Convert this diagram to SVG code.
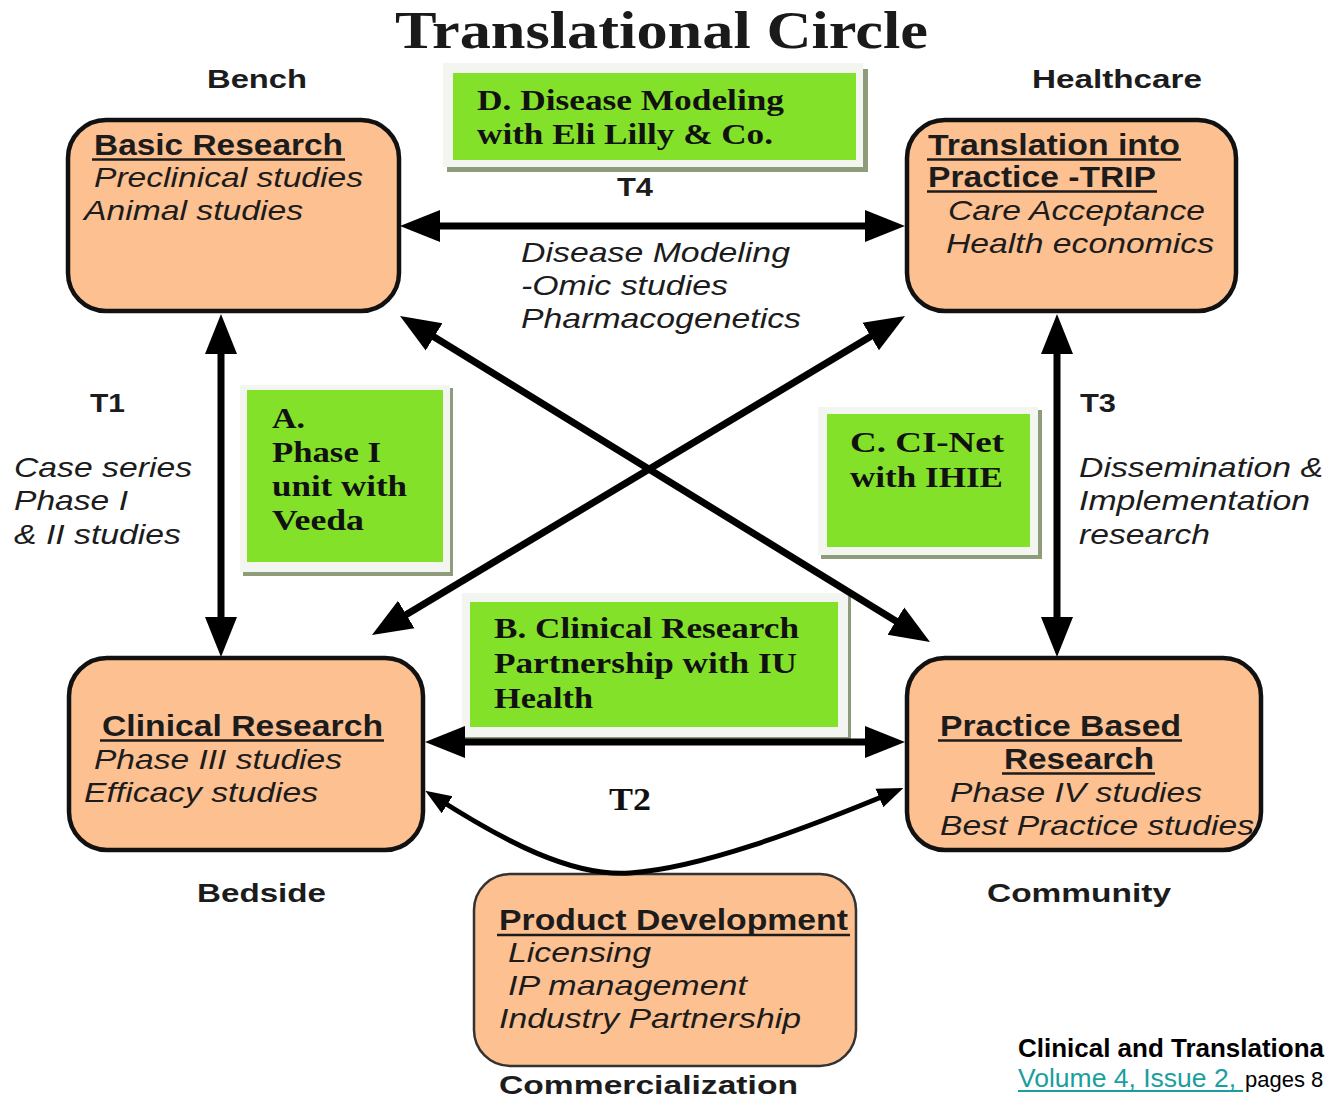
<svg xmlns="http://www.w3.org/2000/svg" width="1329" height="1100" viewBox="0 0 1329 1100">
<defs>
<style>
.box{fill:#fdc091;stroke:#111;stroke-width:4.5}
.box2{fill:#fdc091;stroke:#333;stroke-width:2.5}
.frame{fill:#f3f5f0}
.shadow{fill:#8e9c7c}
.green{fill:#84e12a}
.h{font-family:"Liberation Sans",Arial,sans-serif;font-weight:bold;font-size:29px;fill:#1c1c1c}
.i{font-family:"Liberation Sans",Arial,sans-serif;font-style:italic;font-size:28px;fill:#1c1c1c}
.lbl{font-family:"Liberation Sans",Arial,sans-serif;font-weight:bold;font-size:26px;fill:#1c1c1c}
.g{font-family:"Liberation Serif","Times New Roman",serif;font-weight:bold;font-size:30px;fill:#111}
.title{font-family:"Liberation Serif","Times New Roman",serif;font-weight:bold;font-size:52px;fill:#1a1a1a}
.ul{stroke:#1c1c1c;stroke-width:2.5}
.conn{stroke:#000;stroke-width:7;fill:none}
.curve{stroke:#000;stroke-width:5;fill:none}
</style>
<marker id="ah" markerUnits="userSpaceOnUse" markerWidth="42" markerHeight="36" viewBox="0 0 42 36" refX="29" refY="18" orient="auto-start-reverse">
<path d="M0,2 L40,18 L0,34 z" fill="#000"/>
</marker>
<marker id="ahs" markerUnits="userSpaceOnUse" markerWidth="28" markerHeight="22" viewBox="0 0 28 22" refX="18" refY="11" orient="auto-start-reverse">
<path d="M0,1 L26,11 L0,21 z" fill="#000"/>
</marker>
</defs>
<rect width="1329" height="1100" fill="#fff"/>

<text class="title" x="395" y="48" textLength="533" lengthAdjust="spacingAndGlyphs">Translational Circle</text>

<g id="label-bench"><text class="lbl" x="207" y="88" textLength="100" lengthAdjust="spacingAndGlyphs">Bench</text></g>
<g id="label-healthcare"><text class="lbl" x="1032" y="88" textLength="170" lengthAdjust="spacingAndGlyphs">Healthcare</text></g>
<g id="label-bedside"><text class="lbl" x="197" y="902" textLength="129" lengthAdjust="spacingAndGlyphs">Bedside</text></g>
<g id="label-community"><text class="lbl" x="987" y="902" textLength="184" lengthAdjust="spacingAndGlyphs">Community</text></g>
<g id="label-commercialization"><text class="lbl" x="499" y="1094" textLength="299" lengthAdjust="spacingAndGlyphs">Commercialization</text></g>

<g id="node-basic">
<rect class="box" x="68" y="120" width="331" height="191" rx="38"/>
<text class="h" x="94" y="155" textLength="249" lengthAdjust="spacingAndGlyphs">Basic Research</text>
<line class="ul" x1="92" y1="159.5" x2="345" y2="159.5"/>
<text class="i" x="94" y="187" textLength="269" lengthAdjust="spacingAndGlyphs">Preclinical studies</text>
<text class="i" x="84" y="220" textLength="219" lengthAdjust="spacingAndGlyphs">Animal studies</text>
</g>

<g id="node-trip">
<rect class="box" x="907" y="120" width="329" height="191" rx="38"/>
<text class="h" x="928" y="155" textLength="252" lengthAdjust="spacingAndGlyphs">Translation into</text>
<line class="ul" x1="927" y1="159.5" x2="1181" y2="159.5"/>
<text class="h" x="928" y="187" textLength="228" lengthAdjust="spacingAndGlyphs">Practice -TRIP</text>
<line class="ul" x1="927" y1="191.5" x2="1157" y2="191.5"/>
<text class="i" x="948" y="220" textLength="257" lengthAdjust="spacingAndGlyphs">Care Acceptance</text>
<text class="i" x="946" y="253" textLength="268" lengthAdjust="spacingAndGlyphs">Health economics</text>
</g>

<g id="node-clinical">
<rect class="box" x="69" y="658" width="354" height="192" rx="38"/>
<text class="h" x="102" y="736" textLength="281" lengthAdjust="spacingAndGlyphs">Clinical Research</text>
<line class="ul" x1="100" y1="740.5" x2="384" y2="740.5"/>
<text class="i" x="94" y="769" textLength="248" lengthAdjust="spacingAndGlyphs">Phase III studies</text>
<text class="i" x="84" y="802" textLength="234" lengthAdjust="spacingAndGlyphs">Efficacy studies</text>
</g>

<g id="node-practice">
<rect class="box" x="907" y="658" width="354" height="192" rx="38"/>
<text class="h" x="940" y="736" textLength="241" lengthAdjust="spacingAndGlyphs">Practice Based</text>
<line class="ul" x1="938" y1="740.5" x2="1182" y2="740.5"/>
<text class="h" x="1004" y="769" textLength="150" lengthAdjust="spacingAndGlyphs">Research</text>
<line class="ul" x1="1002" y1="773.5" x2="1155" y2="773.5"/>
<text class="i" x="950" y="802" textLength="252" lengthAdjust="spacingAndGlyphs">Phase IV studies</text>
<text class="i" x="940" y="835" textLength="314" lengthAdjust="spacingAndGlyphs">Best Practice studies</text>
</g>

<g id="node-product">
<rect class="box2" x="474" y="874" width="382" height="192" rx="36"/>
<text class="h" x="499" y="930" textLength="349" lengthAdjust="spacingAndGlyphs">Product Development</text>
<line class="ul" x1="497" y1="935" x2="850" y2="935"/>
<text class="i" x="508" y="962" textLength="143" lengthAdjust="spacingAndGlyphs">Licensing</text>
<text class="i" x="508" y="995" textLength="239" lengthAdjust="spacingAndGlyphs">IP management</text>
<text class="i" x="499" y="1028" textLength="302" lengthAdjust="spacingAndGlyphs">Industry Partnership</text>
</g>

<g id="node-d">
<rect class="shadow" x="447" y="69" width="421" height="103"/>
<rect class="frame" x="443" y="63" width="420" height="104"/>
<rect class="green" x="453" y="73" width="403" height="87"/>
<text class="g" x="477" y="110" textLength="307" lengthAdjust="spacingAndGlyphs">D. Disease Modeling</text>
<text class="g" x="477" y="144" textLength="296" lengthAdjust="spacingAndGlyphs">with Eli Lilly &amp; Co.</text>
</g>

<g id="node-a">
<rect class="shadow" x="243" y="388" width="210" height="188"/>
<rect class="frame" x="240" y="385" width="210" height="187"/>
<rect class="green" x="247" y="390" width="196" height="172"/>
<text class="g" x="272" y="428" textLength="33" lengthAdjust="spacingAndGlyphs">A.</text>
<text class="g" x="272" y="462" textLength="109" lengthAdjust="spacingAndGlyphs">Phase I</text>
<text class="g" x="272" y="496" textLength="135" lengthAdjust="spacingAndGlyphs">unit with</text>
<text class="g" x="272" y="530" textLength="92" lengthAdjust="spacingAndGlyphs">Veeda</text>
</g>

<g id="node-c">
<rect class="shadow" x="821" y="410" width="221" height="149"/>
<rect class="frame" x="818" y="407" width="220" height="148"/>
<rect class="green" x="827" y="414" width="203" height="133"/>
<text class="g" x="850" y="452" textLength="154" lengthAdjust="spacingAndGlyphs">C.  CI-Net</text>
<text class="g" x="850" y="487" textLength="153" lengthAdjust="spacingAndGlyphs">with IHIE</text>
</g>

<g id="node-b">
<rect class="shadow" x="465" y="596" width="386" height="144"/>
<rect class="frame" x="462" y="593" width="386" height="144"/>
<rect class="green" x="470" y="602" width="368" height="125"/>
<text class="g" x="494" y="638" textLength="305" lengthAdjust="spacingAndGlyphs">B. Clinical Research</text>
<text class="g" x="494" y="673" textLength="303" lengthAdjust="spacingAndGlyphs">Partnership with IU</text>
<text class="g" x="494" y="708" textLength="99" lengthAdjust="spacingAndGlyphs">Health</text>
</g>

<g id="connectors">
<line class="conn" x1="411" y1="226" x2="894" y2="226" marker-start="url(#ah)" marker-end="url(#ah)"/>
<line class="conn" x1="436" y1="742" x2="894" y2="742" marker-start="url(#ah)" marker-end="url(#ah)"/>
<line class="conn" x1="221" y1="325" x2="221" y2="646" marker-start="url(#ah)" marker-end="url(#ah)"/>
<line class="conn" x1="1057" y1="325" x2="1057" y2="646" marker-start="url(#ah)" marker-end="url(#ah)"/>
<line class="conn" x1="409.4" y1="321.8" x2="920.6" y2="636.2" marker-start="url(#ah)" marker-end="url(#ah)"/>
<line class="conn" x1="895.6" y1="321.6" x2="381.4" y2="629.4" marker-start="url(#ah)" marker-end="url(#ah)"/>
<path class="curve" d="M432,795 C505,842 572,877 630,873 C700,868 800,831 896,791" marker-start="url(#ahs)" marker-end="url(#ahs)"/>
</g>

<g id="connector-labels">
<text class="lbl" x="617" y="196" textLength="36" lengthAdjust="spacingAndGlyphs">T4</text>
<text class="lbl" x="90" y="412" textLength="35" lengthAdjust="spacingAndGlyphs">T1</text>
<text class="lbl" x="1080" y="412" textLength="36" lengthAdjust="spacingAndGlyphs">T3</text>
<text class="g" x="609" y="810" style="font-size:31px" textLength="42" lengthAdjust="spacingAndGlyphs">T2</text>
<text class="i" x="521" y="262" textLength="269" lengthAdjust="spacingAndGlyphs">Disease Modeling</text>
<text class="i" x="521" y="295" textLength="207" lengthAdjust="spacingAndGlyphs">-Omic studies</text>
<text class="i" x="521" y="328" textLength="280" lengthAdjust="spacingAndGlyphs">Pharmacogenetics</text>
<text class="i" x="14" y="477" textLength="178" lengthAdjust="spacingAndGlyphs">Case series</text>
<text class="i" x="14" y="510" textLength="114" lengthAdjust="spacingAndGlyphs">Phase I</text>
<text class="i" x="14" y="544" textLength="167" lengthAdjust="spacingAndGlyphs">&amp; II studies</text>
<text class="i" x="1079" y="477" textLength="244" lengthAdjust="spacingAndGlyphs">Dissemination &amp;</text>
<text class="i" x="1079" y="510" textLength="231" lengthAdjust="spacingAndGlyphs">Implementation</text>
<text class="i" x="1079" y="544" textLength="131" lengthAdjust="spacingAndGlyphs">research</text>
</g>

<g id="citation">
<text x="1018" y="1057" style="font-family:'Liberation Sans',Arial,sans-serif;font-weight:bold;font-size:26px;fill:#000" textLength="306" lengthAdjust="spacingAndGlyphs">Clinical and Translationa</text>
<text x="1018" y="1087" style="font-family:'Liberation Sans',Arial,sans-serif;font-size:25px;fill:#1a9e9e" textLength="218" lengthAdjust="spacingAndGlyphs">Volume 4, Issue 2,</text>
<line x1="1018" y1="1091" x2="1243" y2="1091" stroke="#1a9e9e" stroke-width="2"/>
<text x="1245" y="1087" style="font-family:'Liberation Sans',Arial,sans-serif;font-size:22px;fill:#000">pages 8</text>
</g>
</svg>
